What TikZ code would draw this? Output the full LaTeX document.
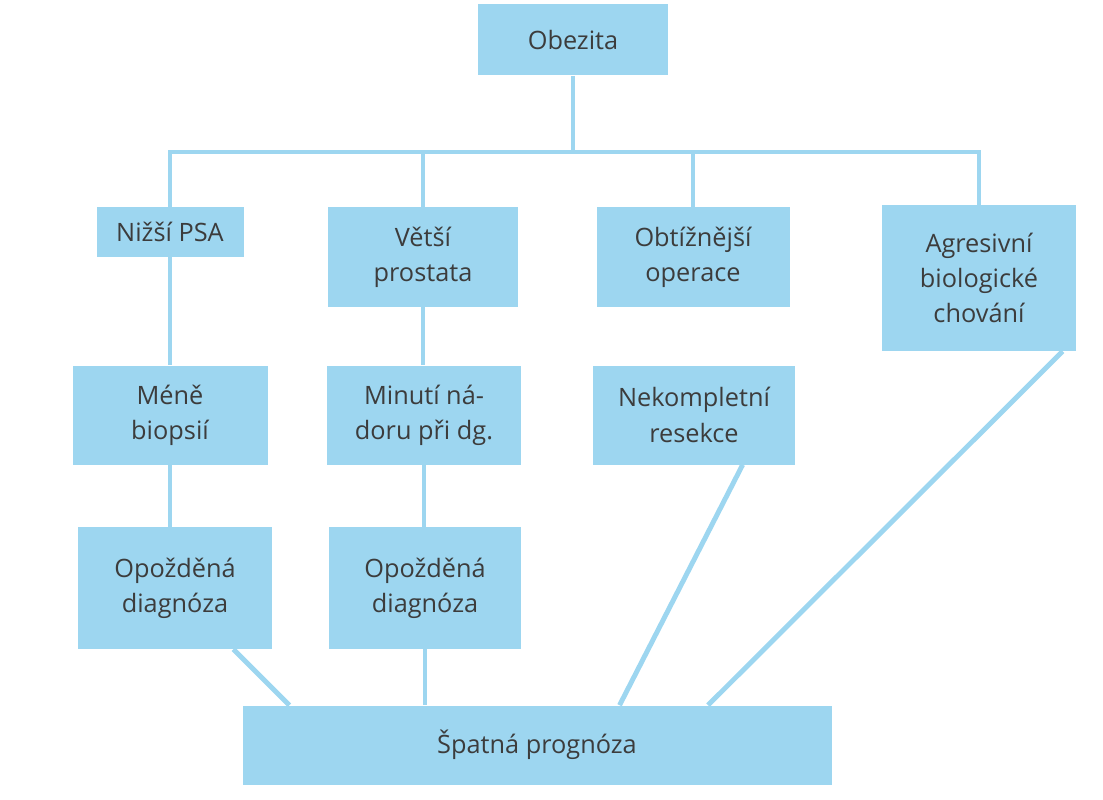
\documentclass[tikz,border=0pt]{standalone}
\usepackage{fontspec}
\setmainfont{Open Sans}
\usetikzlibrary{calc,backgrounds}
\definecolor{boxblue}{HTML}{9DD6F0}
\definecolor{txtgray}{HTML}{3C3C3C}
\tikzset{
  box/.style={fill=boxblue, draw=none, inner sep=0pt, align=center, text=txtgray,
    font=\fontsize{18}{25}\selectfont},
  link/.style={draw=boxblue, line width=3.5pt}
}
\begin{document}
\begin{tikzpicture}[x=0.025cm,y=-0.025cm]
\useasboundingbox (0,0) rectangle (1103,800);
% top
\node[box, minimum width=190*0.025cm, minimum height=71*0.025cm] (obezita) at (573,40) {Obezita};
% first row
\node[box, minimum width=147*0.025cm, minimum height=50*0.025cm] (psa) at (170,232) {Nižší PSA};
\node[box, minimum width=190*0.025cm, minimum height=99*0.025cm] (prostata) at (423,257) {Větší\\prostata};
\node[box, minimum width=193*0.025cm, minimum height=99*0.025cm] (operace) at (693,257) {Obtížnější\\operace};
\node[box, minimum width=194*0.025cm, minimum height=146*0.025cm] (agresivni) at (979,278) {Agresivní\\biologické\\chování};
% second row
\node[box, minimum width=195*0.025cm, minimum height=99*0.025cm] (biopsie) at (170,415) {Méně\\biopsií};
\node[box, minimum width=194*0.025cm, minimum height=99*0.025cm] (minuti) at (424,415) {Minutí ná-\\doru při dg.};
\node[box, minimum width=202*0.025cm, minimum height=99*0.025cm] (resekce) at (694,415) {Nekompletní\\resekce};
% third row
\node[box, minimum width=194*0.025cm, minimum height=122*0.025cm] (diag1) at (175,588) {Opožděná\\diagnóza};
\node[box, minimum width=192*0.025cm, minimum height=122*0.025cm] (diag2) at (425,588) {Opožděná\\diagnóza};
% bottom
\node[box, minimum width=589*0.025cm, minimum height=79*0.025cm] (prognoza) at (537,745) {Špatná prognóza};
\coordinate (bus) at (573,152);
\begin{scope}[on background layer]
\draw[link] (obezita.south) -- (bus);
\draw[link] (psa.north) |- (bus) -| (agresivni.north);
\draw[link] (prostata.north) -- (prostata.north |- bus);
\draw[link] (operace.north) -- (operace.north |- bus);
\draw[link] (psa.south) -- (biopsie.north);
\draw[link] (biopsie.south) -- (biopsie.south |- diag1.north);
\draw[link] (prostata.south) -- (prostata.south |- minuti.north);
\draw[link] (minuti.south) -- (minuti.south |- diag2.north);
\draw[link] (diag2.south) -- (diag2.south |- prognoza.north);
\draw[link] ($(diag1.south west)!0.8!(diag1.south east)$) -- ($(prognoza.north west)!0.08!(prognoza.north east)$);
\draw[link] ($(resekce.south west)!0.74!(resekce.south east)$) -- ($(prognoza.north west)!0.64!(prognoza.north east)$);
\draw[link] ($(agresivni.south west)!0.93!(agresivni.south east)$) -- ($(prognoza.north west)!0.79!(prognoza.north east)$);
\end{scope}
\end{tikzpicture}
\end{document}
